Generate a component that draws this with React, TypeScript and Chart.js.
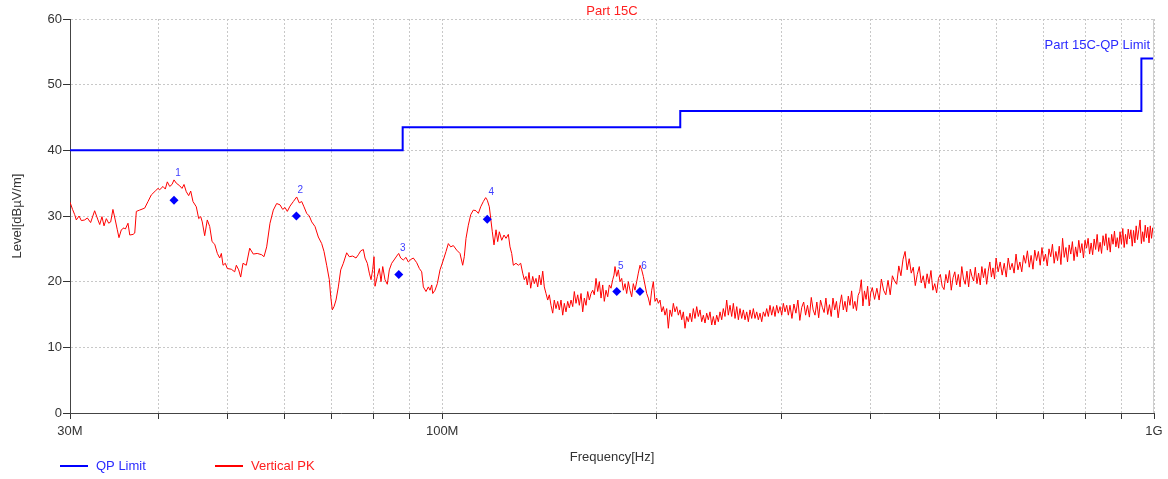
import React, { useEffect, useRef } from 'react';
import { Chart, registerables } from 'chart.js';

Chart.register(...registerables);

const FONT = '"Liberation Sans", Arial, sans-serif';

// X axis tick values (MHz) and the labels shown
const xTickValues = [30, 40, 50, 60, 70, 80, 90, 100, 200, 300, 400, 500, 600, 700, 800, 900, 1000];
const xTickLabels: Record<number, string> = { 30: '30M', 100: '100M', 1000: '1G' };

// QP limit (MHz, dBµV/m)
const limitFreq = [30, 88, 88, 216, 216, 960, 960, 1000];
const limitLevel = [40, 40, 43.5, 43.5, 46, 46, 54, 54];

// Final measurement markers
const markerFreq = [42.0, 62.4, 86.9, 115.7, 175.9, 189.6];
const markerLevel = [32.4, 30.0, 21.1, 29.5, 18.5, 18.5];
const markerLabelLevel = [35.8, 33.2, 24.4, 32.9, 21.6, 21.6];
const markerLabels = ['1', '2', '3', '4', '5', '6'];

// Vertical PK trace, 30 – 97 MHz
const pkFreqA = [
  30.00, 30.25, 30.46, 30.62, 30.89, 31.12, 31.46, 31.73, 32.07, 32.49,
  32.84, 33.03, 33.27, 33.49, 33.74, 34.00, 34.22, 34.47, 34.73, 34.96,
  35.15, 35.42, 35.73, 35.88, 36.19, 36.40, 36.79, 36.99, 37.18, 37.58,
  38.20, 38.61, 39.02, 39.53, 39.88, 40.10, 40.53, 40.83, 41.10, 41.42,
  41.73, 42.00, 42.31, 42.78, 43.10, 43.38, 43.70, 44.04, 44.33, 44.66,
  45.14, 45.49, 45.79, 46.02, 46.38, 46.77, 47.14, 47.50, 47.91, 48.32,
  48.69, 48.95, 49.22, 49.58, 49.90, 50.55, 51.11, 51.38, 51.77, 52.11,
  52.50, 53.06, 53.65, 54.28, 54.98, 55.78, 56.19, 56.68, 57.29, 57.91,
  58.54, 59.18, 59.70, 60.14, 60.59, 61.12, 61.78, 62.46, 62.98, 63.48,
  63.95, 64.51, 65.06, 65.57, 66.27, 66.99, 67.72, 68.23, 68.82, 69.41,
  69.73, 70.09, 70.48, 70.93, 71.47, 72.02, 72.63, 73.42, 74.04, 74.87,
  75.67, 76.25, 76.84, 77.49, 77.91, 78.49, 79.00, 79.44, 79.88, 80.21,
  80.47, 81.07, 81.61, 82.05, 82.50, 83.11, 83.73, 84.28, 84.93, 85.57,
  86.32, 86.87, 87.44, 88.18, 88.95, 89.62, 90.41, 91.08, 92.08, 92.89,
  93.59, 94.09, 94.90, 95.62, 96.14, 96.67,
];
const pkLevelA = [
  32.1, 31.0, 30.2, 29.4, 30.0, 29.3, 29.4, 29.7, 29.0, 30.8,
  29.4, 28.7, 29.9, 28.5, 29.6, 28.9, 29.1, 31.0, 29.4, 27.9,
  26.7, 27.9, 28.2, 28.0, 28.9, 27.1, 27.2, 27.4, 30.7, 30.9,
  31.2, 32.2, 33.2, 33.8, 34.2, 34.0, 34.5, 34.1, 35.2, 34.5,
  34.8, 35.5, 35.0, 34.6, 34.2, 34.8, 33.7, 33.1, 33.8, 32.2,
  31.4, 29.6, 29.9, 29.1, 27.0, 29.4, 28.4, 26.1, 25.7, 24.3,
  23.6, 24.3, 22.5, 22.8, 22.0, 21.9, 21.5, 22.5, 21.8, 20.7,
  22.8, 22.5, 25.1, 24.2, 24.3, 24.1, 23.8, 25.3, 28.9, 30.9,
  31.9, 31.7, 31.0, 31.3, 30.7, 31.5, 32.2, 32.9, 32.0, 32.2,
  31.4, 30.4, 30.0, 29.1, 28.4, 26.8, 25.8, 24.6, 22.5, 20.3,
  17.7, 15.7, 16.2, 17.2, 19.2, 21.8, 22.8, 24.4, 23.8, 23.9,
  23.6, 24.1, 24.7, 24.9, 23.6, 22.8, 21.3, 20.3, 21.9, 23.8,
  19.3, 20.8, 22.0, 20.0, 22.3, 20.3, 19.6, 21.8, 22.8, 23.3,
  23.9, 24.3, 23.6, 23.3, 23.7, 23.0, 23.4, 23.6, 22.9, 22.0,
  21.5, 19.2, 18.5, 19.2, 18.7, 19.5,
];

// Vertical PK trace, 97 – 308 MHz
const pkFreqB = [
  96.99, 97.71, 98.44, 99.30, 100.37, 101.25, 102.01, 102.79, 103.67, 104.81,
  105.93, 106.86, 107.41, 108.01, 108.82, 109.67, 110.60, 111.56, 112.41, 113.27,
  114.23, 115.11, 115.71, 116.47, 117.00, 117.60, 118.25, 119.02, 119.67, 120.30,
  121.23, 122.14, 122.93, 123.86, 124.53, 125.21, 125.88, 126.97, 127.93, 128.91,
  129.75, 130.42, 131.14, 131.70, 132.43, 133.15, 134.02, 134.71, 135.45, 136.20,
  136.91, 137.67, 138.43, 139.14, 139.91, 140.68, 141.42, 142.20, 142.98, 143.71,
  144.51, 145.30, 146.06, 146.87, 147.68, 148.44, 149.26, 150.08, 150.87, 151.71,
  152.54, 153.33, 154.17, 155.02, 155.84, 156.70, 157.55, 158.37, 159.24, 160.12,
  160.95, 161.84, 162.73, 163.57, 164.47, 165.38, 166.24, 167.17, 168.09, 168.95,
  169.89, 170.82, 171.72, 172.66, 173.60, 174.33, 174.90, 175.86, 176.79, 177.75,
  178.73, 179.67, 180.65, 181.64, 182.60, 183.59, 184.60, 185.57, 186.58, 187.61,
  188.60, 189.63, 190.67, 191.68, 192.72, 193.78, 194.81, 195.87, 196.95, 197.99,
  199.06, 200.16, 201.22, 202.31, 203.42, 204.50, 205.61, 206.74, 207.83, 208.96,
  210.11, 211.22, 212.36, 213.54, 214.67, 215.83, 217.02, 218.16, 219.35, 220.56,
  221.72, 222.92, 224.15, 225.33, 226.55, 227.80, 229.00, 230.25, 231.52, 232.74,
  234.00, 235.28, 236.51, 237.82, 239.13, 240.39, 241.69, 243.02, 244.30, 245.64,
  246.99, 248.29, 249.63, 251.01, 252.34, 253.72, 255.12, 256.47, 257.88, 259.30,
  260.67, 262.06, 263.50, 264.90, 266.33, 267.80, 269.21, 270.67, 272.16, 273.61,
  275.08, 276.60, 278.06, 279.57, 281.11, 282.61, 284.13, 285.70, 287.21, 288.76,
  290.36, 291.90, 293.47, 295.09, 296.65, 298.26, 299.91, 301.50, 303.13, 304.80,
  306.41, 308.06,
];
const pkLevelB = [
  18.2, 18.7, 19.7, 21.8, 23.3, 24.6, 25.8, 25.3, 25.5, 24.8,
  24.3, 22.5, 23.8, 26.6, 28.6, 30.2, 30.9, 30.8, 30.4, 31.4,
  32.2, 32.8, 32.4, 31.4, 29.6, 27.6, 25.6, 27.9, 26.1, 27.6,
  26.3, 27.1, 26.6, 27.2, 25.3, 24.3, 22.5, 22.8, 22.5, 22.8,
  21.3, 20.3, 20.8, 19.5, 21.4, 19.0, 20.8, 19.7, 20.5, 19.2,
  21.0, 19.5, 21.6, 19.2, 18.2, 17.2, 18.0, 16.4, 15.2, 17.2,
  15.9, 17.0, 15.7, 17.2, 14.9, 16.7, 15.4, 17.0, 16.0, 17.2,
  16.2, 18.5, 16.7, 18.0, 16.4, 18.2, 15.4, 17.5, 16.4, 18.5,
  17.2, 18.2, 18.7, 18.0, 20.5, 18.5, 20.0, 17.5, 19.5, 17.0,
  18.7, 17.7, 19.5, 19.0, 20.3, 21.0, 22.3, 20.8, 21.8, 20.0,
  20.5, 18.7, 19.7, 18.2, 20.0, 18.7, 17.7, 19.7, 18.7, 20.0,
  21.3, 22.5, 21.8, 20.8, 19.5, 18.2, 17.5, 16.4, 18.7, 20.0,
  17.0, 17.5, 16.7, 17.2, 15.4, 16.2, 14.9, 15.9, 12.9, 15.7,
  14.7, 16.7, 15.4, 16.2, 14.9, 15.7, 14.2, 15.4, 12.9, 14.7,
  13.9, 15.2, 13.9, 15.9, 14.4, 16.2, 14.7, 15.7, 13.9, 14.9,
  13.7, 15.2, 14.2, 15.4, 13.4, 14.7, 13.4, 14.9, 13.9, 15.4,
  14.2, 15.9, 14.7, 17.2, 14.9, 16.4, 14.7, 16.7, 14.4, 16.2,
  14.2, 15.9, 14.4, 15.7, 14.2, 15.4, 13.9, 15.7, 14.4, 15.9,
  14.4, 15.4, 14.2, 15.2, 13.9, 15.4, 14.7, 15.9, 14.7, 16.4,
  14.9, 16.2, 14.7, 16.4, 15.2, 16.2, 14.9, 16.7, 15.4, 16.4,
  14.9, 16.4,
];

// Vertical PK trace, 310 – 1000 MHz
const pkFreqC = [
  310, 312, 314, 316, 318, 320, 322, 324, 326, 328,
  330, 332, 334, 336, 338, 340, 342, 344, 346, 348,
  350, 352, 354, 356, 358, 360, 362, 364, 366, 368,
  370, 372, 374, 376, 378, 380, 382, 384, 386, 388,
  390, 392, 394, 396, 398, 400,
  402, 405, 408, 411, 414, 417, 420, 423, 426, 429,
  432, 435, 438, 441, 444, 447, 450, 453, 456, 459,
  462, 465, 468, 471, 474, 477, 480, 483, 486, 489,
  492, 495, 498, 501, 504, 507, 510, 513, 516, 519,
  522, 525, 528, 531, 534, 537, 540, 543, 546, 549,
  552, 555, 558, 561, 564, 567, 570, 573, 576, 579,
  582, 585, 588, 591, 594, 597, 600,
  604, 608, 612, 616, 620, 624, 628, 632, 636, 640,
  644, 648, 652, 656, 660, 664, 668, 672, 676, 680,
  684, 688, 692, 696, 700, 704, 708, 712, 716, 720,
  724, 728, 732, 736, 740, 744, 748, 752, 756, 760,
  764, 768, 772, 776, 780, 784, 788, 792, 796, 800,
  804, 808, 812, 816, 820, 824, 828, 832, 836, 840,
  844, 848, 852, 856, 860, 864, 868, 872, 876, 880,
  884, 888, 892, 896, 900, 904, 908, 912, 916, 920,
  924, 928, 932, 936, 940, 944, 948, 952, 956, 960,
  964, 968, 972, 976, 980, 984, 988, 992, 996, 1000,
];
const pkLevelC = [
  14.4, 16.6, 15.2, 17.2, 14.1, 16.1, 16.9, 14.9, 16.4, 14.6,
  17.6, 15.7, 14.9, 16.9, 14.5, 17.2, 16.1, 15.3, 17.5, 15.0,
  16.5, 14.7, 17.5, 15.7, 17.0, 14.5, 16.5, 18.0, 15.7, 17.0,
  15.4, 17.8, 16.4, 18.6, 15.9, 17.0, 15.6, 17.9, 18.5, 20.3,
  16.3, 18.6, 17.3, 19.3, 16.3, 18.3,
  19.1, 17.3, 19.0, 17.2, 20.4, 18.7, 18.0, 20.2, 18.0, 20.9,
  20.1, 19.6, 22.4, 20.9, 23.4, 24.6, 21.8, 23.5, 21.3, 22.2,
  19.4, 21.1, 22.3, 19.8, 20.9, 19.0, 21.2, 19.7, 21.7, 18.7,
  19.7, 18.3, 20.5, 21.1, 19.3, 18.8, 21.1, 19.8, 21.7, 18.7,
  20.6, 21.5, 19.5, 21.1, 19.2, 22.3, 20.4, 19.6, 21.6, 19.2,
  21.9, 20.8, 20.1, 22.2, 19.7, 21.3, 19.5, 22.3, 20.6, 22.0,
  19.6, 21.6, 23.0, 20.7, 22.1, 20.4, 23.6,
  21.5, 23.0, 21.0, 22.8, 20.7, 23.6, 21.8, 22.8, 21.3, 24.2,
  21.8, 23.0, 21.5, 24.0, 22.8, 24.7, 22.2, 24.0, 21.9, 24.8,
  23.2, 24.6, 22.5, 25.2, 23.1, 24.2, 22.4, 25.0, 23.8, 25.7,
  22.8, 24.6, 23.2, 25.4, 22.6, 26.6, 23.7, 25.2, 23.0, 25.6,
  24.2, 26.1, 23.2, 25.3, 23.8, 26.3, 24.4, 25.8, 23.6, 26.3,
  25.1, 26.6, 24.2, 25.9, 24.1, 26.5, 24.9, 27.2, 24.6, 26.0,
  24.3, 27.0, 25.5, 27.3, 24.8, 26.7, 24.5, 27.2, 25.7, 27.7,
  25.3, 26.7, 25.1, 27.6, 25.7, 28.1, 25.2, 27.2, 25.7, 28.0,
  26.5, 27.9, 25.4, 27.8, 25.9, 28.5, 26.4, 27.9, 29.4, 25.8,
  27.6, 26.1, 28.6, 26.7, 28.3, 25.9, 28.5, 26.6, 28.2, 26.7,
];

const pkFreq = [...pkFreqA, ...pkFreqB, ...pkFreqC];
const pkLevel = [...pkLevelA, ...pkLevelB, ...pkLevelC];

const overlayPlugin = {
  id: 'overlay',
  afterDatasetsDraw(chart: any) {
    const { ctx, chartArea, scales } = chart;
    const xs = scales.x;
    const ys = scales.y;
    ctx.save();

    // right frame line
    ctx.strokeStyle = '#cfcfcf';
    ctx.lineWidth = 1;
    ctx.beginPath();
    ctx.moveTo(Math.round(chartArea.right) - 0.5, chartArea.top);
    ctx.lineTo(Math.round(chartArea.right) - 0.5, chartArea.bottom);
    ctx.stroke();

    // marker numbers
    ctx.font = `10px ${FONT}`;
    ctx.fillStyle = '#3d3dff';
    ctx.textAlign = 'center';
    ctx.textBaseline = 'bottom';
    markerFreq.forEach((f, i) => {
      ctx.fillText(markerLabels[i], xs.getPixelForValue(f) + 4, ys.getPixelForValue(markerLabelLevel[i]));
    });

    // limit name
    ctx.font = `13px ${FONT}`;
    ctx.fillStyle = '#2b2bff';
    ctx.textAlign = 'right';
    ctx.textBaseline = 'middle';
    ctx.fillText('Part 15C-QP Limit', chartArea.right - 4, chartArea.top + 26);

    // title
    ctx.fillStyle = '#ff2020';
    ctx.textAlign = 'center';
    ctx.fillText('Part 15C', (chartArea.left + chartArea.right) / 2, chartArea.top - 8);

    // legend
    const ly = chart.height - 13;
    ctx.lineWidth = 2;
    ctx.strokeStyle = '#0000ff';
    ctx.beginPath();
    ctx.moveTo(60, ly);
    ctx.lineTo(88, ly);
    ctx.stroke();
    ctx.strokeStyle = '#ff0000';
    ctx.beginPath();
    ctx.moveTo(215, ly);
    ctx.lineTo(243, ly);
    ctx.stroke();
    ctx.textAlign = 'left';
    ctx.fillStyle = '#2b2bff';
    ctx.fillText('QP Limit', 96, ly);
    ctx.fillStyle = '#ff2020';
    ctx.fillText('Vertical PK', 251, ly);

    ctx.restore();
  },
};

export default function App() {
  const canvasRef = useRef<HTMLCanvasElement | null>(null);

  useEffect(() => {
    if (!canvasRef.current) return;
    const chart = new Chart(canvasRef.current, {
      type: 'line',
      data: {
        datasets: [
          {
            label: 'QP Limit',
            data: limitFreq.map((f, i) => ({ x: f, y: limitLevel[i] })),
            borderColor: '#0000ff',
            backgroundColor: '#0000ff',
            borderWidth: 2,
            pointRadius: 0,
            order: 1,
          },
          {
            label: 'Vertical PK',
            data: pkFreq.map((f, i) => ({ x: f, y: pkLevel[i] })),
            borderColor: '#ff0000',
            backgroundColor: '#ff0000',
            borderWidth: 1,
            pointRadius: 0,
            order: 2,
          },
          {
            label: 'Markers',
            data: markerFreq.map((f, i) => ({ x: f, y: markerLevel[i] })),
            showLine: false,
            pointStyle: 'rectRot',
            pointRadius: 4.5,
            borderWidth: 0,
            backgroundColor: '#0000ff',
            borderColor: '#0000ff',
            order: 0,
          },
        ],
      },
      options: {
        animation: false,
        responsive: false,
        devicePixelRatio: 1,
        layout: { padding: { left: 0, right: 14, top: 19, bottom: 0 } },
        plugins: {
          legend: { display: false },
          tooltip: { enabled: false },
          title: { display: false },
        },
        scales: {
          x: {
            type: 'logarithmic',
            min: 30,
            max: 1000,
            afterBuildTicks: (scale: any) => {
              scale.ticks = xTickValues.map((v) => ({ value: v }));
            },
            afterFit: (scale: any) => {
              scale.height = 66;
            },
            ticks: {
              autoSkip: false,
              maxRotation: 0,
              padding: 5,
              color: '#333333',
              font: { family: FONT, size: 13 },
              callback: (v: any) => xTickLabels[Number(v)] ?? '',
            },
            grid: {
              color: '#c8c8c8',
              lineWidth: 1,
              tickLength: 6,
              tickColor: '#333333',
              tickWidth: 1,
            },
            border: { display: true, color: '#444444', width: 1, dash: [2, 2] },
            title: {
              display: true,
              text: 'Frequency[Hz]',
              color: '#333333',
              font: { family: FONT, size: 13 },
              padding: { top: 0, bottom: 14 },
            },
          },
          y: {
            min: 0,
            max: 60,
            afterFit: (scale: any) => {
              scale.width = 70;
            },
            ticks: {
              stepSize: 10,
              padding: 1,
              color: '#333333',
              font: { family: FONT, size: 13 },
            },
            grid: {
              color: '#c8c8c8',
              lineWidth: 1,
              tickLength: 7,
              tickColor: '#333333',
              tickWidth: 1,
            },
            border: { display: true, color: '#444444', width: 1, dash: [2, 2] },
            title: {
              display: true,
              text: 'Level[dBµV/m]',
              color: '#333333',
              font: { family: FONT, size: 13 },
              padding: { top: 10, bottom: 0 },
            },
          },
        },
      } as any,
      plugins: [overlayPlugin],
    });
    return () => chart.destroy();
  }, []);

  return (
    <div style={{ position: 'absolute', left: 0, top: 0, width: 1168, height: 479, background: '#ffffff' }}>
      <canvas ref={canvasRef} width={1168} height={479} style={{ display: 'block' }} />
    </div>
  );
}
